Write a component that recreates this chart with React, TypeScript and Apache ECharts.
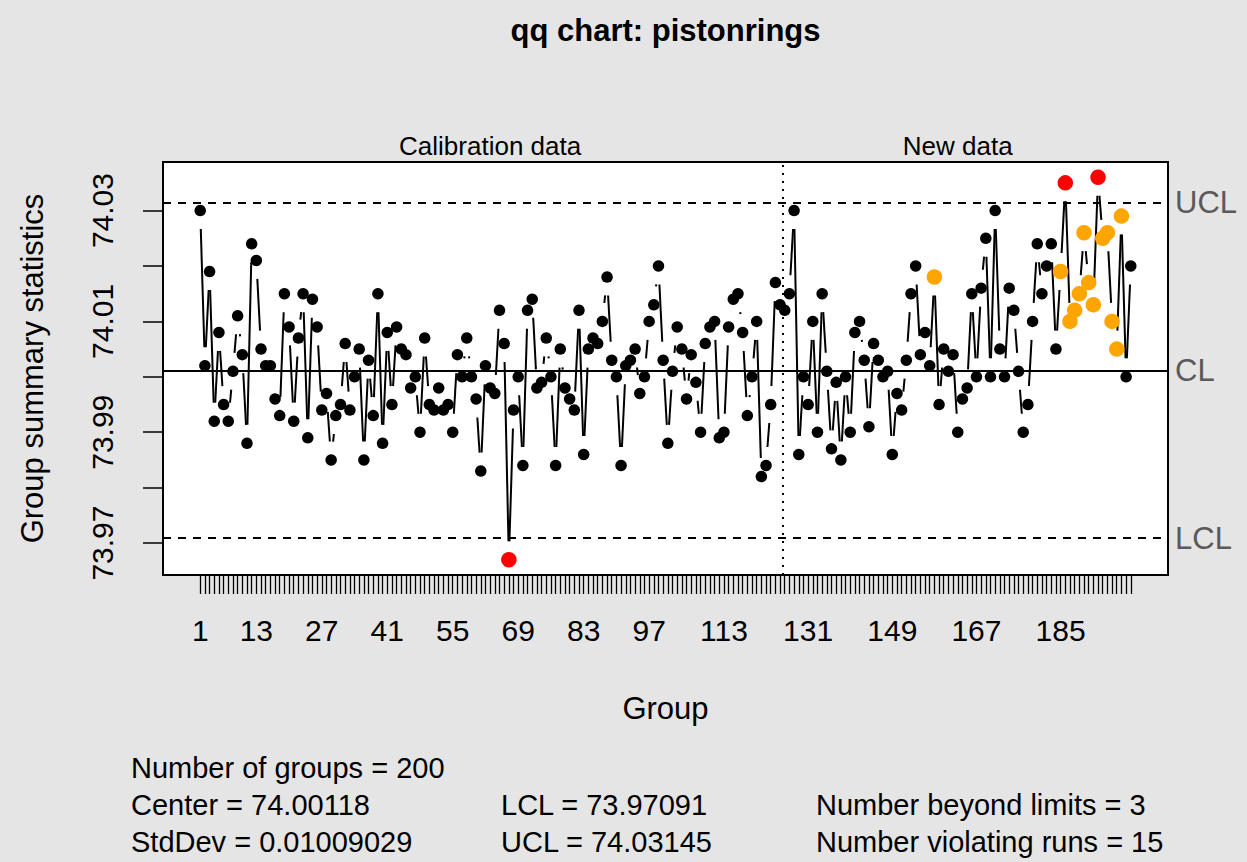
import React, { useEffect, useRef } from "react";
import * as echarts from "echarts";

const FONT = '"Liberation Sans", Arial, Helvetica, sans-serif';

// pistonrings diameters, calibration phase (samples 1-25, 5 per sample)
const calibration = [
  74.030, 74.002, 74.019, 73.992, 74.008,
  73.995, 73.992, 74.001, 74.011, 74.004,
  73.988, 74.024, 74.021, 74.005, 74.002,
  74.002, 73.996, 73.993, 74.015, 74.009,
  73.992, 74.007, 74.015, 73.989, 74.014,
  74.009, 73.994, 73.997, 73.985, 73.993,
  73.995, 74.006, 73.994, 74.000, 74.005,
  73.985, 74.003, 73.993, 74.015, 73.988,
  74.008, 73.995, 74.009, 74.005, 74.004,
  73.998, 74.000, 73.990, 74.007, 73.995,
  73.994, 73.998, 73.994, 73.995, 73.990,
  74.004, 74.000, 74.007, 74.000, 73.996,
  73.983, 74.002, 73.998, 73.997, 74.012,
  74.006, 73.967, 73.994, 74.000, 73.984,
  74.012, 74.014, 73.998, 73.999, 74.007,
  74.000, 73.984, 74.005, 73.998, 73.996,
  73.994, 74.012, 73.986, 74.005, 74.007,
  74.006, 74.010, 74.018, 74.003, 74.000,
  73.984, 74.002, 74.003, 74.005, 73.997,
  74.000, 74.010, 74.013, 74.020, 74.003,
  73.988, 74.001, 74.009, 74.005, 73.996,
  74.004, 73.999, 73.990, 74.006, 74.009,
  74.010, 73.989, 73.990, 74.009, 74.014,
  74.015, 74.008, 73.993, 74.000, 74.010,
  73.982, 73.984, 73.995, 74.017, 74.013,
];

// new data (samples 26-40)
const newData = [
  74.012, 74.015, 74.030, 73.986, 74.000,
  73.995, 74.010, 73.990, 74.015, 74.001,
  73.987, 73.999, 73.985, 74.000, 73.990,
  74.008, 74.010, 74.003, 73.991, 74.006,
  74.003, 74.000, 74.001, 73.986, 73.997,
  73.994, 74.003, 74.015, 74.020, 74.004,
  74.008, 74.002, 74.018, 73.995, 74.005,
  74.001, 74.004, 73.990, 73.996, 73.998,
  74.015, 74.000, 74.016, 74.025, 74.000,
  74.030, 74.005, 74.000, 74.016, 74.012,
  74.001, 73.990, 73.995, 74.010, 74.024,
  74.015, 74.020, 74.024, 74.005, 74.019,
  74.035, 74.010, 74.012, 74.015, 74.026,
  74.017, 74.013, 74.036, 74.025, 74.026,
  74.010, 74.005, 74.029, 74.000, 74.020,
];

const xLabelGroups = [1, 13, 27, 41, 55, 69, 83, 97, 113, 131, 149, 167, 185];
const yTickValues = [73.97, 73.98, 73.99, 74.0, 74.01, 74.02, 74.03];
const yLabelValues = [73.97, 73.99, 74.01, 74.03];
const phaseLabels = ["Calibration data", "New data"];
const limitNames = ["UCL", "CL", "LCL"];

const center = 74.00118;
const stdDev = 0.01009029;
const nSigmas = 3;
const runLength = 7;

const values = [...calibration, ...newData];
const n = values.length;
const lcl = center - nSigmas * stdDev;
const ucl = center + nSigmas * stdDev;

// axis extents (R style 4% expansion)
const xMin = 1 - 0.04 * (n - 1);
const xMax = n + 0.04 * (n - 1);
const yLo = Math.min(...values, lcl);
const yHi = Math.max(...values, ucl);
const yMin = yLo - 0.04 * (yHi - yLo);
const yMax = yHi + 0.04 * (yHi - yLo);

// rule violations
const beyond = values.map((v) => v > ucl || v < lcl);
const inRun: boolean[] = [];
{
  let side = 0;
  let count = 0;
  values.forEach((v) => {
    const s = v > center ? 1 : v < center ? -1 : 0;
    if (s !== 0 && s === side) count += 1;
    else {
      side = s;
      count = s === 0 ? 0 : 1;
    }
    inRun.push(count >= runLength);
  });
}
const nBeyond = beyond.filter(Boolean).length;
const nRuns = inRun.filter(Boolean).length;

const groupIdx = values.map((_, i) => i + 1);

const pointData = values.map((v, i) => {
  const col = beyond[i] ? "#ff0000" : inRun[i] ? "#ffa500" : "#000000";
  const big = beyond[i] || inRun[i];
  return { value: [i + 1, v], symbolSize: big ? 15.5 : 11.5, itemStyle: { color: col, opacity: 1 } };
});

const segments = values.slice(0, -1).map((v, i) => [i + 1, v, i + 2, values[i + 1]]);

const GAP = 18.5;

const plotLeft = 163;
const plotRight = 79;
const plotTop = 162;
const plotBottom = 287;
const W = 1247;
const H = 862;

const statStyle = (text: string, x: number, y: number) => ({
  type: "text",
  x,
  y,
  silent: true,
  style: {
    text,
    fill: "#000",
    fontSize: 29,
    fontFamily: FONT,
    align: "left",
    textAlign: "left",
    verticalAlign: "middle",
    textVerticalAlign: "middle",
  },
});

export default function App() {
  const ref = useRef<HTMLDivElement>(null);
  useEffect(() => {
    const chart = echarts.init(ref.current!, null, { renderer: "svg" });
    const dashed = { type: [8, 7], width: 2, color: "#000" };
    const option: any = {
      animation: false,
      backgroundColor: "#e5e5e5",
      textStyle: { fontFamily: FONT },
      grid: {
        left: plotLeft,
        right: plotRight,
        top: plotTop,
        bottom: plotBottom,
        show: true,
        backgroundColor: "#ffffff",
        borderColor: "#000",
        borderWidth: 2,
        outerBoundsMode: "none",
      },
      xAxis: {
        type: "value",
        min: xMin,
        max: xMax,
        name: "Group",
        nameLocation: "middle",
        nameGap: 118,
        nameTextStyle: { fontSize: 31, color: "#000", fontFamily: FONT },
        axisLine: { show: false, onZero: false },
        splitLine: { show: false },
        axisTick: {
          show: true,
          length: 19,
          lineStyle: { color: "#000", width: 1.3 },
          customValues: groupIdx,
        },
        axisLabel: {
          customValues: xLabelGroups,
          fontSize: 30,
          color: "#000",
          margin: 40,
          fontFamily: FONT,
        },
      },
      yAxis: {
        type: "value",
        min: yMin,
        max: yMax,
        name: "Group summary statistics",
        nameLocation: "middle",
        nameRotate: 90,
        nameGap: 115,
        nameTextStyle: { fontSize: 31, color: "#000", fontFamily: FONT },
        axisLine: { show: false, onZero: false },
        splitLine: { show: false },
        axisTick: {
          show: true,
          length: 20,
          lineStyle: { color: "#000", width: 1.5 },
          customValues: yTickValues,
        },
        axisLabel: {
          customValues: yLabelValues,
          rotate: 90,
          fontSize: 30,
          color: "#000",
          margin: 46,
          fontFamily: FONT,
          formatter: (v: number) => v.toFixed(2),
        },
      },
      graphic: [
        {
          type: "text",
          x: plotLeft + (W - plotLeft - plotRight) / 2,
          y: 30,
          silent: true,
          style: {
            text: "qq chart: pistonrings",
            fill: "#000",
            fontSize: 31,
            fontWeight: "bold",
            fontFamily: FONT,
            align: "center",
            textAlign: "center",
            verticalAlign: "middle",
            textVerticalAlign: "middle",
          },
        },
        statStyle(`Number of groups = ${n}`, 131, 768),
        statStyle(`Center = ${center.toFixed(5)}`, 131, 805),
        statStyle(`StdDev = ${stdDev}`, 131, 842),
        statStyle(`LCL = ${lcl.toFixed(5)}`, 501, 805),
        statStyle(`UCL = ${ucl.toFixed(5)}`, 501, 842),
        statStyle(`Number beyond limits = ${nBeyond}`, 816, 805),
        statStyle(`Number violating runs = ${nRuns}`, 816, 842),
      ],
      series: [
        {
          type: "line",
          data: values.map((v, i) => [i + 1, v]),
          showSymbol: false,
          silent: true,
          z: 1,
          lineStyle: { opacity: 0 },
          markLine: {
            silent: true,
            precision: 10,
            symbol: ["none", "none"],
            label: {
              show: true,
              position: "end",
              formatter: "{b}",
              fontSize: 31,
              color: "#5a5a5a",
              distance: 7,
              fontFamily: FONT,
            },
            data: [
              { yAxis: ucl, name: limitNames[0], lineStyle: dashed },
              { yAxis: center, name: limitNames[1], lineStyle: { type: "solid", width: 2, color: "#000" } },
              { yAxis: lcl, name: limitNames[2], lineStyle: dashed },
              {
                xAxis: calibration.length + 0.5,
                name: "",
                lineStyle: { type: [2, 6], width: 2, color: "#000" },
                label: { show: false },
              },
            ],
          },
          markArea: {
            silent: true,
            itemStyle: { color: "rgba(0,0,0,0)" },
            label: {
              show: true,
              position: "top",
              distance: 3,
              fontSize: 26,
              color: "#000",
              fontFamily: FONT,
            },
            data: [
              [{ xAxis: 1, name: phaseLabels[0] }, { xAxis: calibration.length }],
              [{ xAxis: calibration.length + 1, name: phaseLabels[1] }, { xAxis: n }],
            ],
          },
        },
        {
          type: "custom",
          silent: true,
          z: 2,
          data: segments,
          encode: { x: [0, 2], y: [1, 3] },
          renderItem: (_params: any, api: any) => {
            const p0 = api.coord([api.value(0), api.value(1)]);
            const p1 = api.coord([api.value(2), api.value(3)]);
            const dx = p1[0] - p0[0];
            const dy = p1[1] - p0[1];
            const dist = Math.hypot(dx, dy);
            const f = GAP / dist;
            if (!(f < 0.5)) return { type: "group", children: [] };
            return {
              type: "line",
              shape: {
                x1: p0[0] + f * dx,
                y1: p0[1] + f * dy,
                x2: p1[0] - f * dx,
                y2: p1[1] - f * dy,
              },
              style: { stroke: "#000", lineWidth: 2 },
            };
          },
        },
        {
          type: "scatter",
          silent: true,
          z: 3,
          data: pointData,
        },
      ],
    };
    chart.setOption(option);
    return () => chart.dispose();
  }, []);
  return (
    <div
      ref={ref}
      style={{ position: "absolute", left: 0, top: 0, width: W, height: H, background: "#e5e5e5" }}
    />
  );
}
